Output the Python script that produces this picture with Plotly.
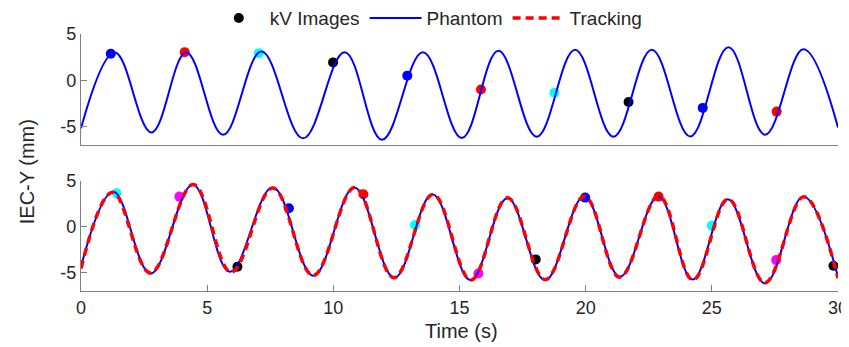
import plotly.graph_objects as go
from plotly.subplots import make_subplots

# ---- Top panel: phantom motion (extrema) ----
top_t = [0, 1.34, 2.79, 4.17, 5.63, 7.15, 8.80, 10.45, 11.93, 13.55, 15.09,
         16.54, 18.06, 19.58, 21.10, 22.62, 24.14, 25.66, 27.11, 28.63, 30.0]
top_phantom = [-5.2, 3.0, -5.64, 3.0, -5.89, 3.11, -6.28, 3.04, -6.43, 3.04, -6.25,
               3.18, -6.1, 3.29, -6.1, 3.29, -6.07, 3.58, -5.89, 3.36, -5.1]

top_kv_t = [1.18, 4.11, 7.05, 9.99, 12.93, 15.85, 18.76, 21.70, 24.64, 27.57]
top_kv_y = [2.86, 3.04, 2.93, 1.93, 0.50, -1.0, -1.35, -2.36, -2.99, -3.39]
top_kv_col = ["#0000FF", "#FF0000", "#00FFFF", "#000000", "#0000FF",
              "#FF0000", "#00FFFF", "#000000", "#0000FF", "#FF0000"]

# ---- Bottom panel: phantom and tracking ----
bot_t = [0, 1.28, 2.76, 4.43, 5.90, 7.60, 9.21, 10.83, 12.42, 13.93, 15.44,
         16.90, 18.39, 19.94, 21.36, 22.88, 24.24, 25.63, 27.11, 28.63, 30.0]
bot_phantom = [-4.36, 3.8, -5.09, 4.55, -4.9, 4.25, -5.35, 4.25, -5.56, 3.53, -5.82,
               3.09, -5.82, 3.27, -5.45, 3.27, -5.75, 2.98, -6.18, 3.27, -5.45]

trk_t = [0, 1.25, 2.75, 4.45, 5.95, 7.60, 9.20, 10.85, 12.40, 13.95, 15.45,
         16.90, 18.40, 19.95, 21.35, 22.90, 24.25, 25.65, 27.10, 28.65, 30.0]
trk_y = [-4.55, 3.75, -5.05, 4.6, -4.95, 4.2, -5.3, 4.25, -5.55, 3.5, -5.8,
         3.15, -5.75, 3.3, -5.5, 3.35, -5.8, 3.0, -6.1, 3.25, -5.6]

bot_kv_t = [1.41, 3.90, 6.20, 8.24, 11.19, 13.24, 15.75, 18.02, 19.98, 22.89, 25.0, 27.55, 29.82]
bot_kv_y = [3.64, 3.27, -4.36, 2.0, 3.53, 0.18, -5.09, -3.56, 3.16, 3.27, 0.11, -3.64, -4.25]
bot_kv_col = ["#00FFFF", "#FF00FF", "#000000", "#0000FF", "#FF0000", "#00FFFF",
              "#FF00FF", "#000000", "#0000FF", "#FF0000", "#00FFFF", "#FF00FF", "#000000"]

x_ticks = [0, 5, 10, 15, 20, 25, 30]
x_ticktext = ["0", "5", "10", "15", "20", "25", "30"]
y_ticks = [-5, 0, 5]
y_ticktext = ["-5", "0", "5"]

AX = "#808080"
TXT = "#262626"
FONT = "Liberation Sans, Arial, sans-serif"

fig = make_subplots(rows=2, cols=1, shared_xaxes=False, vertical_spacing=0.1)

# legend entries
fig.add_trace(go.Scatter(x=[None], y=[None], mode="markers", name="kV Images",
                         marker=dict(color="#000000", size=10)), row=1, col=1)
fig.add_trace(go.Scatter(x=[None], y=[None], mode="lines", name="Phantom",
                         line=dict(color="#0000FF", width=2)), row=1, col=1)
fig.add_trace(go.Scatter(x=[None], y=[None], mode="lines", name="Tracking",
                         line=dict(color="#FF0000", width=3.5, dash="8px,5px")), row=1, col=1)

# top panel
fig.add_trace(go.Scatter(x=top_kv_t, y=top_kv_y, mode="markers", showlegend=False,
                         marker=dict(color=top_kv_col, size=10)), row=1, col=1)
fig.add_trace(go.Scatter(x=top_t, y=top_phantom, mode="lines", showlegend=False,
                         line=dict(color="#0000FF", width=2, shape="spline", smoothing=1.1)),
              row=1, col=1)

# bottom panel
fig.add_trace(go.Scatter(x=bot_kv_t, y=bot_kv_y, mode="markers", showlegend=False,
                         marker=dict(color=bot_kv_col, size=10)), row=2, col=1)
fig.add_trace(go.Scatter(x=bot_t, y=bot_phantom, mode="lines", showlegend=False,
                         line=dict(color="#0000FF", width=2, shape="spline", smoothing=1.1)),
              row=2, col=1)
fig.add_trace(go.Scatter(x=trk_t, y=trk_y, mode="lines", showlegend=False,
                         line=dict(color="#FF0000", width=3.5, dash="8px,5px",
                                   shape="spline", smoothing=1.1)),
              row=2, col=1)

H_PLOT = 257.0
top_dom = [1 - 111 / H_PLOT, 1]
bot_dom = [0, 1 - 146.7 / H_PLOT]

common_x = dict(range=[0, 30], showgrid=False, zeroline=False, showline=True,
                linecolor=AX, linewidth=1.2, mirror=False, automargin=False)
fig.update_xaxes(**common_x, showticklabels=False, ticks="", row=1, col=1)
fig.update_xaxes(**common_x, tickmode="array", tickvals=x_ticks, ticktext=x_ticktext,
                 ticks="inside", ticklen=6, tickcolor=AX, tickwidth=1.2,
                 tickfont=dict(size=18, color=TXT, family=FONT), row=2, col=1)

common_y = dict(range=[-7, 5], showgrid=False, zeroline=False, showline=True,
                linecolor=AX, linewidth=1.2, tickmode="array", tickvals=y_ticks,
                ticktext=y_ticktext, ticks="inside", ticklen=6, tickcolor=AX,
                tickwidth=1.2, tickfont=dict(size=18, color=TXT, family=FONT),
                automargin=False)
fig.update_yaxes(**common_y, domain=top_dom, row=1, col=1)
fig.update_yaxes(**common_y, domain=bot_dom, row=2, col=1)

# page body has an 8px margin, so the figure is drawn 8px smaller/offset
fig.update_layout(
    width=841, height=339,
    margin=dict(l=73, r=11, t=26, b=56, autoexpand=False),
    plot_bgcolor="white", paper_bgcolor="white",
    font=dict(family=FONT, color=TXT),
    legend=dict(orientation="h", x=0.1675, xanchor="left", y=1.062, yanchor="middle",
                font=dict(size=19, color=TXT, family=FONT), itemwidth=52,
                bgcolor="rgba(0,0,0,0)", traceorder="normal"),
    annotations=[
        dict(text="Time (s)", xref="paper", yref="paper", x=0.502, y=-0.156,
             xanchor="center", yanchor="middle", showarrow=False,
             font=dict(size=20, color=TXT, family=FONT)),
        dict(text="IEC-Y (mm)", xref="paper", yref="paper", x=-0.072, y=0.464,
             xanchor="center", yanchor="middle", textangle=-90, showarrow=False,
             font=dict(size=20, color=TXT, family=FONT)),
    ],
)

fig.write_html("out.html")
